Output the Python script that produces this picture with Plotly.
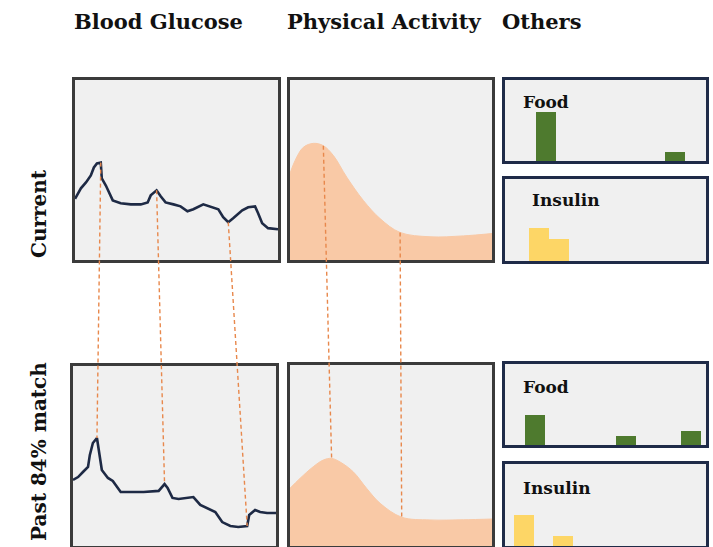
import plotly.graph_objects as go

# ---------------- data ----------------
bg_cur_t = [0, 2.9, 5.4, 7.8, 9.3, 10.8, 12.7, 13.2, 15.2, 18.6, 22.5, 27.5, 32.4, 35.8, 37.3, 40.2,
            42.2, 44.6, 48.5, 52.0, 55.4, 58.3, 63.2, 66.7, 70.6, 73.0, 75.5, 77.9, 82.4, 85.3, 88.7,
            90.2, 92.2, 95.1, 100]
bg_cur = [34.0, 39.8, 43.1, 47.0, 51.4, 53.6, 54.1, 45.3, 41.4, 33.1, 31.5, 30.9, 30.9, 32.0, 35.9, 38.7,
          35.4, 32.0, 30.9, 29.8, 27.1, 28.2, 30.9, 29.8, 28.2, 23.8, 21.0, 23.2, 27.6, 29.3, 29.8,
          26.0, 20.4, 17.7, 17.1]

bg_past_t = [0, 2.5, 4.9, 7.4, 8.3, 9.8, 11.8, 12.7, 14.2, 17.2, 19.6, 23.5, 28.4, 34.8, 42.2, 45.1,
             46.6, 49.0, 52.0, 56.9, 59.3, 62.7, 66.7, 70.1, 73.5, 77.5, 81.4, 85.8, 86.8, 89.7, 92.2,
             95.6, 100]
bg_past = [36.7, 38.3, 41.1, 43.9, 50.6, 57.2, 60.0, 52.2, 42.2, 37.8, 36.1, 30.0, 30.0, 30.0, 30.6, 34.4,
           32.2, 26.7, 26.1, 26.7, 27.2, 22.8, 20.6, 18.9, 13.3, 11.1, 10.6, 11.1, 17.2, 20.0, 18.9,
           18.3, 18.3]

pa_cur_t = [0, 2.5, 6.6, 11.6, 16.5, 21.5, 28.1, 36.3, 44.6, 54.5, 69.3, 85.8, 100]
pa_cur = [48.1, 55.2, 62.6, 64.8, 63.5, 58.0, 46.0, 33.1, 23.0, 15.3, 12.9, 13.4, 14.7]

pa_past_t = [0, 5.0, 11.5, 16.5, 20.6, 24.8, 31.3, 37.9, 44.6, 55.3, 69.3, 85.8, 100]
pa_past = [31.9, 37.4, 43.8, 47.5, 48.4, 46.4, 41.0, 31.9, 23.6, 15.9, 14.4, 14.5, 14.9]

food_cur_t = [20.2, 84.5]
food_cur = [61, 11]
ins_cur_t = [16.7, 26.6]
ins_cur = [40, 27]
food_past_t = [15.0, 60.1, 92.6]
food_past = [37, 11, 17]
ins_past_t = [9.6, 28.8]
ins_past = [38, 12]

# matched points (index in current series, index in past series)
bg_matches = [(6, 6), (15, 15), (26, 27)]
pa_matches = [(4, 4), (9, 9)]

col_titles = ["Blood Glucose", "Physical Activity", "Others"]
row_titles = ["Current", "Past 84% match"]

# ---------------- layout geometry ----------------
W, H = 713, 547
FONT = "DejaVu Serif"
GRAY_FRAME = "#3b3b3b"
NAVY_FRAME = "#1f2b48"
LINE_COL = "#1e2a45"
PEACH = "#f9c9a6"
GREEN = "#4e7a2e"
YELLOW = "#fdd666"
LINK_COL = "#e8884c"

# pixel boxes (x0, x1, y0_top, y1_bottom)
PANELS = {
    1: (75, 278, 80, 260),   # BG current
    2: (290, 492, 80, 260),  # PA current
    3: (505, 706, 80, 161),  # Food current
    4: (505, 706, 179, 261), # Insulin current
    5: (73, 276, 366, 546),  # BG past
    6: (290, 492, 365, 546), # PA past
    7: (505, 706, 364, 445), # Food past
    8: (505, 706, 464, 546), # Insulin past
}
XR = [0, 100]
YR = [0, 100]

fig = go.Figure()


def ax(n):
    return ("x" if n == 1 else f"x{n}"), ("y" if n == 1 else f"y{n}")


def add_line(n, t, v):
    xa, ya = ax(n)
    fig.add_trace(go.Scatter(x=t, y=v, mode="lines", xaxis=xa, yaxis=ya,
                             line=dict(color=LINE_COL, width=2.6), hoverinfo="skip"))


def add_area(n, t, v):
    xa, ya = ax(n)
    fig.add_trace(go.Scatter(x=t, y=v, mode="lines", xaxis=xa, yaxis=ya, fill="tozeroy",
                             fillcolor=PEACH, line=dict(color=PEACH, width=1, shape="spline"),
                             hoverinfo="skip"))


def add_bars(n, t, v, color):
    xa, ya = ax(n)
    fig.add_trace(go.Bar(x=t, y=v, width=10, xaxis=xa, yaxis=ya, marker=dict(color=color, line_width=0),
                         hoverinfo="skip"))


add_line(1, bg_cur_t, bg_cur)
add_area(2, pa_cur_t, pa_cur)
add_bars(3, food_cur_t, food_cur, GREEN)
add_bars(4, ins_cur_t, ins_cur, YELLOW)
add_line(5, bg_past_t, bg_past)
add_area(6, pa_past_t, pa_past)
add_bars(7, food_past_t, food_past, GREEN)
add_bars(8, ins_past_t, ins_past, YELLOW)

layout = dict(width=W, height=H, autosize=False, margin=dict(l=0, r=0, t=0, b=0),
              paper_bgcolor="white", plot_bgcolor="#f0f0f0", showlegend=False, bargap=0)

for n, (x0, x1, y0, y1) in PANELS.items():
    fc = NAVY_FRAME if n in (3, 4, 7, 8) else GRAY_FRAME
    common = dict(showline=True, mirror=True, linecolor=fc, linewidth=3, showgrid=False,
                  zeroline=False, showticklabels=False, ticks="", fixedrange=True)
    xk = "xaxis" if n == 1 else f"xaxis{n}"
    yk = "yaxis" if n == 1 else f"yaxis{n}"
    layout[xk] = dict(domain=[x0 / W, x1 / W], range=XR, anchor=ax(n)[1], **common)
    layout[yk] = dict(domain=[1 - y1 / H, 1 - y0 / H], range=YR, anchor=ax(n)[0], **common)

fig.update_layout(**layout)


def to_paper(n, x, y):
    x0, x1, y0, y1 = PANELS[n]
    px = x0 + (x - XR[0]) / (XR[1] - XR[0]) * (x1 - x0)
    py = y1 - (y - YR[0]) / (YR[1] - YR[0]) * (y1 - y0)
    return px / W, 1 - py / H


shapes = []
for (top, bot, tt, tv, pt, pv, matches) in [
    (1, 5, bg_cur_t, bg_cur, bg_past_t, bg_past, bg_matches),
    (2, 6, pa_cur_t, pa_cur, pa_past_t, pa_past, pa_matches),
]:
    for i, j in matches:
        ax0, ay0 = to_paper(top, tt[i], tv[i])
        ax1, ay1 = to_paper(bot, pt[j], pv[j])
        shapes.append(dict(type="line", xref="paper", yref="paper", x0=ax0, y0=ay0, x1=ax1, y1=ay1,
                           line=dict(color=LINK_COL, width=1.4, dash="4px,3px"), layer="above"))
fig.update_layout(shapes=shapes)

ann = []
title_left = [72, 285, 500]
for txt, px in zip(col_titles, title_left):
    ann.append(dict(text=txt, x=px / W, y=1 - 21 / H, xref="paper", yref="paper", xanchor="left",
                    yanchor="middle", showarrow=False,
                    font=dict(family=FONT, size=21, color="#111111", weight="bold")))
row_cy = [214, 452]
for txt, cy in zip(row_titles, row_cy):
    ann.append(dict(text=txt, x=39 / W, y=1 - cy / H, xref="paper", yref="paper", xanchor="center",
                    yanchor="middle", showarrow=False, textangle=-90,
                    font=dict(family=FONT, size=20, color="#111111", weight="bold")))

labels = [(3, "Food", 0.078, 0.73), (4, "Insulin", 0.122, 0.74),
          (7, "Food", 0.078, 0.72), (8, "Insulin", 0.078, 0.71)]
for n, txt, lx, ly in labels:
    xa, ya = ax(n)
    ann.append(dict(text=txt, x=lx, y=ly, xref=f"{xa} domain", yref=f"{ya} domain", xanchor="left",
                    yanchor="middle", showarrow=False,
                    font=dict(family=FONT, size=17, color="#111111", weight="bold")))
fig.update_layout(annotations=ann)

fig.write_html("out.html", config={"displayModeBar": False},
               post_script="document.body.style.margin='0px';")
